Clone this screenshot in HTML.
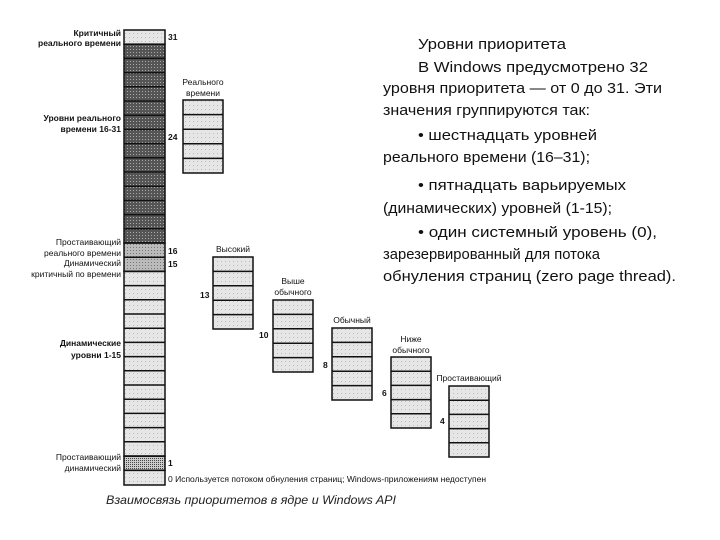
<!DOCTYPE html>
<html><head><meta charset="utf-8"><style>
body{margin:0;background:#fff}
svg{display:block}
.l{font-family:"Liberation Sans",sans-serif;font-size:8.5px;fill:#111}
.b{font-weight:bold}
.t{font-family:"Liberation Sans",sans-serif;font-size:15px;fill:#111}
</style></head><body>
<svg width="720" height="540" viewBox="0 0 720 540" xmlns="http://www.w3.org/2000/svg">
<defs>
<pattern id="lt" width="4" height="4" patternUnits="userSpaceOnUse"><rect width="4" height="4" fill="#e6e6e6"/><rect x="1" y="1" width="1" height="1" fill="#bbb"/></pattern>
<pattern id="dk" width="3" height="3" patternUnits="userSpaceOnUse"><rect width="3" height="3" fill="#555"/><rect x="1" y="1" width="1" height="1" fill="#aaa"/></pattern>
<pattern id="md" width="3" height="3" patternUnits="userSpaceOnUse"><rect width="3" height="3" fill="#bbb"/><rect x="1" y="1" width="1" height="1" fill="#777"/></pattern>
<pattern id="dt" width="2" height="2" patternUnits="userSpaceOnUse"><rect width="2" height="2" fill="#ccc"/><rect width="1" height="1" fill="#444"/></pattern>
</defs>
<g stroke="#111" stroke-width="1.5">
<rect x="124" y="30" width="41" height="14.2" fill="url(#lt)"/>
<rect x="124" y="44.2" width="41" height="198.8" fill="url(#dk)"/>
<rect x="124" y="243" width="41" height="28.4" fill="url(#md)"/>
<rect x="124" y="271.4" width="41" height="184.8" fill="url(#lt)"/>
<rect x="124" y="456.2" width="41" height="14.2" fill="url(#dt)"/>
<rect x="124" y="470.4" width="41" height="14.6" fill="url(#lt)"/>
<path d="M124 44.2H165M124 58.4H165M124 72.6H165M124 86.8H165M124 101H165M124 115.2H165M124 129.4H165M124 143.6H165M124 157.8H165M124 172H165M124 186.2H165M124 200.4H165M124 214.6H165M124 228.8H165M124 243H165M124 257.2H165M124 271.4H165M124 285.6H165M124 299.8H165M124 314H165M124 328.2H165M124 342.4H165M124 356.6H165M124 370.8H165M124 385H165M124 399.2H165M124 413.4H165M124 427.6H165M124 441.8H165M124 456H165M124 470.2H165" fill="none"/>
<g fill="url(#lt)">
<rect x="183" y="100" width="40" height="73"/>
<rect x="213" y="257" width="40" height="72"/>
<rect x="273" y="300" width="40" height="72"/>
<rect x="332" y="328" width="40" height="72"/>
<rect x="391" y="357" width="40" height="71"/>
<rect x="449" y="386" width="40" height="71"/>
</g>
<path fill="none" d="M183 114.6H223M183 129.2H223M183 143.8H223M183 158.4H223
M213 271.4H253M213 285.8H253M213 300.2H253M213 314.6H253
M273 314.4H313M273 328.8H313M273 343.2H313M273 357.6H313
M332 342.4H372M332 356.8H372M332 371.2H372M332 385.6H372
M391 371.2H431M391 385.4H431M391 399.6H431M391 413.8H431
M449 400.2H489M449 414.4H489M449 428.6H489M449 442.8H489"/>
</g>
<g class="l b" text-anchor="end">
<text x="121" y="36">Критичный</text>
<text x="121" y="46">реального времени</text>
<text x="121" y="121">Уровни реального</text>
<text x="121" y="132">времени 16-31</text>
<text x="121" y="346">Динамические</text>
<text x="121" y="358">уровни 1-15</text>
</g>
<g class="l" text-anchor="end">
<text x="121" y="245">Простаивающий</text>
<text x="121" y="256">реального времени</text>
<text x="121" y="266">Динамический</text>
<text x="121" y="277">критичный по времени</text>
<text x="121" y="460">Простаивающий</text>
<text x="121" y="471">динамический</text>
</g>
<g class="l b">
<text x="168" y="40">31</text>
<text x="168" y="140">24</text>
<text x="168" y="254">16</text>
<text x="168" y="267">15</text>
<text x="200" y="298">13</text>
<text x="259" y="338">10</text>
<text x="323" y="368">8</text>
<text x="382" y="396">6</text>
<text x="440" y="424">4</text>
<text x="168" y="466">1</text>
</g>
<g class="l" text-anchor="middle">
<text x="203" y="85">Реального</text>
<text x="203" y="96">времени</text>
<text x="233" y="252">Высокий</text>
<text x="293" y="284">Выше</text>
<text x="293" y="295">обычного</text>
<text x="352" y="323">Обычный</text>
<text x="411" y="342">Ниже</text>
<text x="411" y="353">обычного</text>
<text x="469" y="381">Простаивающий</text>
</g>
<text class="l" x="168" y="482">0  Используется потоком обнуления страниц; Windows-приложениям недоступен</text>
<text x="106" y="504" font-family="Liberation Sans,sans-serif" font-size="12" font-style="italic" fill="#222" textLength="290" lengthAdjust="spacingAndGlyphs">Взаимосвязь приоритетов в ядре и Windows API</text>
<g class="t" lengthAdjust="spacingAndGlyphs">
<text x="418" y="49" textLength="148" lengthAdjust="spacingAndGlyphs">Уровни приоритета</text>
<text x="418" y="72" textLength="230" lengthAdjust="spacingAndGlyphs">В Windows предусмотрено 32</text>
<text x="383" y="93" textLength="279" lengthAdjust="spacingAndGlyphs">уровня приоритета — от 0 до 31. Эти</text>
<text x="383" y="115" textLength="207" lengthAdjust="spacingAndGlyphs">значения группируются так:</text>
<text x="418" y="140" textLength="179" lengthAdjust="spacingAndGlyphs">• шестнадцать уровней</text>
<text x="383" y="162" textLength="207" lengthAdjust="spacingAndGlyphs">реального времени (16–31);</text>
<text x="418" y="190" textLength="208" lengthAdjust="spacingAndGlyphs">• пятнадцать варьируемых</text>
<text x="383" y="213" textLength="229" lengthAdjust="spacingAndGlyphs">(динамических) уровней (1-15);</text>
<text x="418" y="237" textLength="239" lengthAdjust="spacingAndGlyphs">• один системный уровень (0),</text>
<text x="383" y="259" textLength="217" lengthAdjust="spacingAndGlyphs">зарезервированный для потока</text>
<text x="383" y="281" textLength="293" lengthAdjust="spacingAndGlyphs">обнуления страниц (zero page thread).</text>
</g>
</svg>
</body></html>
